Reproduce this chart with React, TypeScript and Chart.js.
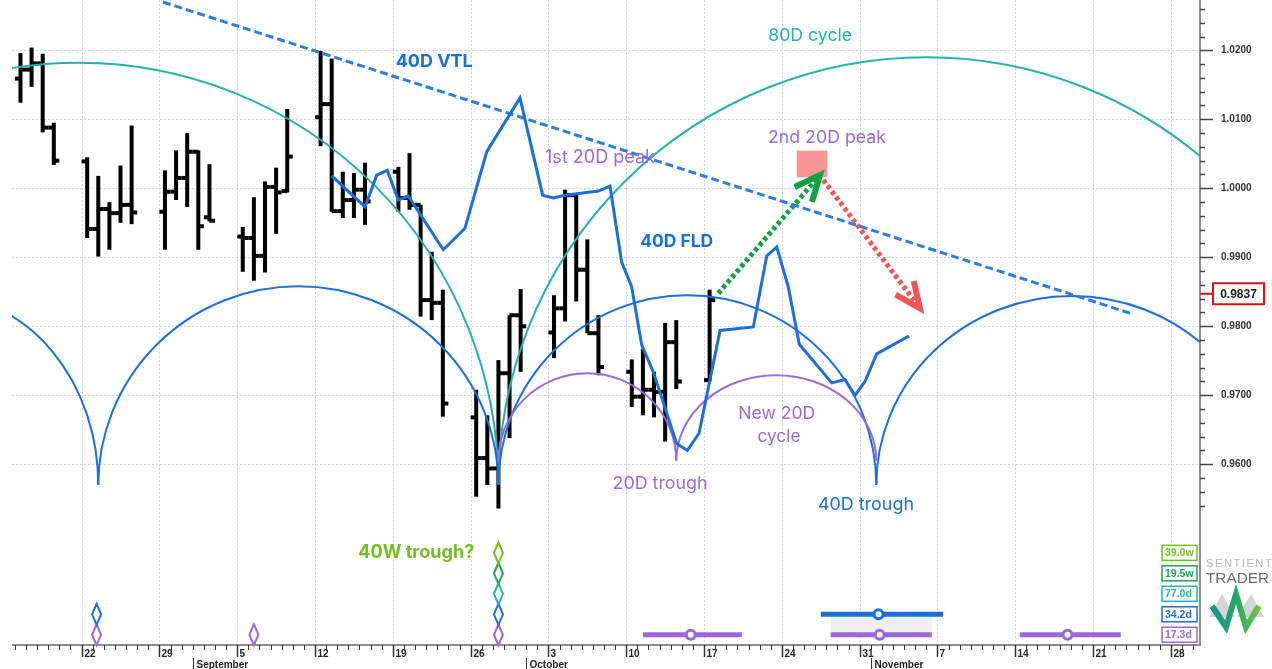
import { useEffect, useRef } from 'react';
import { Chart, registerables } from 'chart.js';
Chart.register(...registerables);

// ---------------- data ----------------
const BASE_DATE = '2022-08-22';
const barDates = [
  '2022-08-16', '2022-08-17', '2022-08-18', '2022-08-19',
  '2022-08-22', '2022-08-23', '2022-08-24', '2022-08-25', '2022-08-26',
  '2022-08-29', '2022-08-30', '2022-08-31', '2022-09-01', '2022-09-02',
  '2022-09-05', '2022-09-06', '2022-09-07', '2022-09-08', '2022-09-09',
  '2022-09-12', '2022-09-13', '2022-09-14', '2022-09-15', '2022-09-16',
  '2022-09-19', '2022-09-20', '2022-09-21', '2022-09-22', '2022-09-23',
  '2022-09-26', '2022-09-27', '2022-09-28', '2022-09-29', '2022-09-30',
  '2022-10-03', '2022-10-04', '2022-10-05', '2022-10-06', '2022-10-07',
  '2022-10-10', '2022-10-11', '2022-10-12', '2022-10-13', '2022-10-14',
  '2022-10-17',
];
const barOpen = [
  1.0159, 1.0172, 1.0181, 1.0088,
  1.0039, 0.9941, 0.9970, 0.9964, 0.9976,
  0.9966, 0.9995, 1.0015, 1.0053, 0.9958,
  0.9930, 0.9928, 0.9902, 1.0002, 0.9996,
  1.0103, 1.0122, 0.9967, 0.9983, 0.9998,
  1.0024, 0.9986, 0.9976, 0.9838, 0.9834,
  0.9668, 0.9609, 0.9594, 0.9732, 0.9816,
  0.9791, 0.9826, 0.9990, 0.9882, 0.9790,
  0.9734, 0.9698, 0.9708, 0.9705, 0.9777,
  0.9722,
];
const barHigh = [
  1.0196, 1.0204, 1.0195, 1.0095,
  1.0045, 1.0018, 0.9980, 1.0033, 1.0091,
  1.0026, 1.0055, 1.0080, 1.0055, 1.0035,
  0.9944, 0.9987, 1.0010, 1.0030, 1.0115,
  1.0199, 1.0188, 1.0024, 1.0022, 1.0037,
  1.0031, 1.0051, 0.9976, 0.9908, 0.9853,
  0.9708, 0.9671, 0.9751, 0.9816, 0.9854,
  0.9845, 0.9998, 0.9993, 0.9926, 0.9816,
  0.9752, 0.9767, 0.9734, 0.9805, 0.9809,
  0.9853,
];
const barLow = [
  1.0124, 1.0147, 1.0081, 1.0034,
  0.9928, 0.9901, 0.9911, 0.9950, 0.9948,
  0.9911, 0.9983, 0.9973, 0.9911, 0.9952,
  0.9879, 0.9866, 0.9878, 0.9934, 0.9994,
  1.0061, 0.9966, 0.9957, 0.9957, 0.9947,
  0.9966, 0.9969, 0.9814, 0.9809, 0.9669,
  0.9553, 0.9570, 0.9536, 0.9638, 0.9734,
  0.9754, 0.9807, 0.9836, 0.9790, 0.9729,
  0.9683, 0.9671, 0.9668, 0.9633, 0.9709,
  0.9720,
];
const barClose = [
  1.0172, 1.0181, 1.0088, 1.0040,
  0.9941, 0.9970, 0.9964, 0.9976, 0.9965,
  0.9995, 1.0015, 1.0053, 0.9945, 0.9953,
  0.9928, 0.9902, 1.0002, 0.9994, 1.0046,
  1.0122, 0.9967, 0.9983, 0.9998, 0.9981,
  0.9986, 0.9976, 0.9838, 0.9834, 0.9688,
  0.9609, 0.9594, 0.9732, 0.9816, 0.9800,
  0.9826, 0.9990, 0.9882, 0.9790, 0.9741,
  0.9698, 0.9708, 0.9705, 0.9777, 0.9720,
  0.9838,
];
const lastPriceLabel = '0.9837';

// 40D FLD (days after 2022-08-22)
const fldDays = [22.5, 25.5, 26.55, 27.5, 28.49, 29.39, 32.54, 34.49, 36.45, 39.44, 41.48, 42.44, 43.49, 46.49, 47.54,
  48.59, 49.49, 50.39, 51.43, 53.54, 54.49, 55.55, 57.44, 60.43, 61.64, 62.54, 63.58, 64.57, 67.49, 68.68, 69.58,
  70.48, 71.53, 74.44];
const fldValues = [1.0018, 0.9973, 1.0019, 1.0026, 0.9983, 0.9989, 0.9911, 0.9942, 1.0053, 1.0131, 0.9990, 0.9986,
  0.9990, 0.9996, 1.0003, 0.9893, 0.9857, 0.9773, 0.9734, 0.9630, 0.9620, 0.9645, 0.9794, 0.9799, 0.9902, 0.9915,
  0.9857, 0.9774, 0.9718, 0.9723, 0.9700, 0.9720, 0.9760, 0.9786];

// 40D VTL
const vtlDays = [7.32, 94.32];
const vtlValues = [1.0270, 0.9819];

// cycle arcs (trough positions in days, peak prices)
const cycle80Troughs = [-38, 37.5, 114.5];
const cycle80Peaks = [1.0182, 1.0190];
const cycle40Troughs = [-26.75, 1.5, 37.5, 71.5, 106.7];
const cycle40Peaks = [0.9844, 0.9858, 0.9845, 0.9844];
const cycle20Troughs = [37.5, 53.5, 71.5];
const cycle20Peaks = [0.9732, 0.9729];
const cycleBase = 0.9570;
const cycle20Base = 0.9605;

// projection arrows and target zone
const upArrowDays = [57.28, 66.43];
const upArrowValues = [0.98478, 1.00193];
const downArrowDays = [66.73, 75.43];
const downArrowValues = [1.0012, 0.98261];
const peakZoneDays = [64.34, 67.09];
const peakZoneValues = [1.00545, 1.00159];

// lower panel: cycles, trough markers and projections
const cycleNames = ['17.3d', '34.2d', '77.0d', '19.5w', '39.0w'];
const troughMarkDays = [[1.35, 15.5, 37.5], [1.35, 37.5], [37.5], [37.5], [37.5]];
const projCycle = [0, 0, 0, 1];
const projFrom = [50.5, 67.4, 84.4, 66.5];
const projTo = [59.4, 76.5, 93.5, 77.5];
const projMid = [54.8, 71.8, 88.7, 71.7];
const shadeFrom = 67.4;
const shadeTo = 76.5;

// text annotations
const noteTexts = ['40D VTL', '80D cycle', '2nd 20D peak', '1st 20D peak', '40D FLD', 'New 20D', 'cycle', '20D trough', '40D trough'];
const noteDays = [31.72, 65.55, 67.06, 46.64, 53.54, 62.54, 62.74, 52.04, 70.57];
const noteValues = [1.0183, 1.02207, 1.00729, 1.00439, 0.99228, 0.96740, 0.96403, 0.95714, 0.95409];
const footNoteText = '40W trough?';
const footNoteDay = 30.11;
const footNoteRow = 4.5;

// ---------------- styles ----------------
const X_MIN = -6.262;
const X_MAX = 100.62;
const Y_MIN = 0.93381;
const Y_MAX = 1.02729;
const COLORS = {
  bar: '#000000', fld: '#1a6fdc', vtl: '#2a7de4', teal: '#22b2a9', blue: '#1a6fdc', purple: '#9a68da',
  up: '#12a043', down: '#f05656', zone: '#f99595', lime: '#74bd22', green: '#1fa24f', grid: '#d4d4d4',
  axis: '#8c8c8c', tick: '#333333',
};
const cycleColors = [COLORS.purple, COLORS.blue, COLORS.teal, COLORS.green, COLORS.lime];
const noteStyles = [
  { c: COLORS.fld, w: 'bold', width: 77 },
  { c: COLORS.teal, w: 'normal', width: 84 },
  { c: COLORS.purple, w: 'normal', width: 118 },
  { c: COLORS.purple, w: 'normal', width: 110 },
  { c: COLORS.fld, w: 'bold', width: 73 },
  { c: COLORS.purple, w: 'normal', width: 77 },
  { c: COLORS.purple, w: 'normal', width: 43 },
  { c: COLORS.purple, w: 'normal', width: 95 },
  { c: COLORS.blue, w: 'normal', width: 96 },
];
const MONTHS = ['January', 'February', 'March', 'April', 'May', 'June', 'July', 'August', 'September', 'October', 'November', 'December'];

const baseMs = Date.parse(BASE_DATE + 'T00:00:00Z');
const dayOf = (s: string) => (Date.parse(s + 'T00:00:00Z') - baseMs) / 86400000;

const yTickValues: number[] = [];
for (let i = 0; i <= 36; i++) yTickValues.push(Math.round((0.954 + i * 0.002) * 10000) / 10000);
const isMajor = (v: number) => v >= 0.9599 && Math.abs(v * 100 - Math.round(v * 100)) < 1e-6;

function fitText(ctx: CanvasRenderingContext2D, text: string, cx: number, cy: number, weight: string, family: string, width: number, color: string, align: CanvasTextAlign = 'center') {
  ctx.font = `${weight} 20px ${family}`;
  const m = ctx.measureText(text).width;
  const size = 20 * width / m;
  ctx.font = `${weight} ${size.toFixed(2)}px ${family}`;
  ctx.fillStyle = color;
  ctx.textAlign = align;
  ctx.textBaseline = 'middle';
  ctx.fillText(text, cx, cy);
}

function arrowHead(ctx: CanvasRenderingContext2D, x0: number, y0: number, x1: number, y1: number, color: string) {
  const ang = Math.atan2(y0 - y1, x0 - x1);
  const len = 28;
  const spread = (24 * Math.PI) / 180;
  ctx.save();
  ctx.setLineDash([]);
  ctx.strokeStyle = color;
  ctx.lineWidth = 6;
  ctx.lineCap = 'butt';
  ctx.lineJoin = 'miter';
  ctx.beginPath();
  ctx.moveTo(x1 + len * Math.cos(ang + spread), y1 + len * Math.sin(ang + spread));
  ctx.lineTo(x1, y1);
  ctx.lineTo(x1 + len * Math.cos(ang - spread), y1 + len * Math.sin(ang - spread));
  ctx.stroke();
  ctx.restore();
}

const cyclePlugin = {
  id: 'cyclePlugin',
  beforeDatasetsDraw(chart: any) {
    const { ctx, chartArea: a } = chart;
    const xs = chart.scales.x;
    const ys = chart.scales.y;
    ctx.save();
    // grid
    ctx.strokeStyle = COLORS.grid;
    ctx.lineWidth = 1;
    ctx.setLineDash([2, 2]);
    for (let d = Math.ceil(xs.min); d <= xs.max; d++) {
      const date = new Date(baseMs + d * 86400000);
      if (date.getUTCDay() !== 1) continue;
      const x = Math.round(xs.getPixelForValue(d)) + 0.5;
      ctx.beginPath(); ctx.moveTo(x, a.top); ctx.lineTo(x, a.bottom); ctx.stroke();
    }
    yTickValues.filter(isMajor).forEach((v) => {
      const y = Math.round(ys.getPixelForValue(v)) + 0.5;
      ctx.beginPath(); ctx.moveTo(a.left, y); ctx.lineTo(a.right, y); ctx.stroke();
    });
    ctx.setLineDash([]);
    ctx.beginPath(); ctx.rect(a.left, a.top, a.right - a.left, a.bottom - a.top); ctx.clip();
    // OHLC bars
    const half = (xs.getPixelForValue(1) - xs.getPixelForValue(0)) / 2;
    ctx.fillStyle = COLORS.bar;
    barDates.forEach((ds, i) => {
      const x = xs.getPixelForValue(dayOf(ds) + 0.5);
      const yh = ys.getPixelForValue(barHigh[i]);
      const yl = ys.getPixelForValue(barLow[i]);
      const yo = ys.getPixelForValue(barOpen[i]);
      const yc = ys.getPixelForValue(barClose[i]);
      ctx.fillRect(x - 2, yh, 4, yl - yh);
      ctx.fillRect(x - half, yo - 2, half, 4);
      ctx.fillRect(x, yc - 2, half, 4);
    });
    // cycle arcs
    const arcs = (troughs: number[], peaks: number[], base: number, color: string) => {
      ctx.strokeStyle = color;
      ctx.lineWidth = 2;
      peaks.forEach((p, i) => {
        const x0 = xs.getPixelForValue(troughs[i]);
        const x1 = xs.getPixelForValue(troughs[i + 1]);
        const yb = ys.getPixelForValue(base);
        const yp = ys.getPixelForValue(p);
        ctx.beginPath();
        ctx.ellipse((x0 + x1) / 2, yb, (x1 - x0) / 2, yb - yp, 0, Math.PI, 2 * Math.PI);
        ctx.stroke();
      });
    };
    arcs(cycle80Troughs, cycle80Peaks, cycleBase, COLORS.teal);
    arcs(cycle40Troughs, cycle40Peaks, cycleBase, COLORS.blue);
    arcs(cycle20Troughs, cycle20Peaks, cycle20Base, COLORS.purple);
    ctx.restore();
  },
  afterDatasetsDraw(chart: any) {
    const { ctx } = chart;
    const xs = chart.scales.x;
    const ys = chart.scales.y;
    const y2 = chart.scales.y2;
    ctx.save();
    // peak zone
    const zx0 = xs.getPixelForValue(peakZoneDays[0]);
    const zx1 = xs.getPixelForValue(peakZoneDays[1]);
    const zy0 = ys.getPixelForValue(peakZoneValues[0]);
    const zy1 = ys.getPixelForValue(peakZoneValues[1]);
    ctx.fillStyle = COLORS.zone;
    ctx.fillRect(zx0, zy0, zx1 - zx0, zy1 - zy0);
    // arrow heads
    arrowHead(ctx, xs.getPixelForValue(upArrowDays[0]), ys.getPixelForValue(upArrowValues[0]),
      xs.getPixelForValue(upArrowDays[1]), ys.getPixelForValue(upArrowValues[1]), COLORS.up);
    arrowHead(ctx, xs.getPixelForValue(downArrowDays[0]), ys.getPixelForValue(downArrowValues[0]),
      xs.getPixelForValue(downArrowDays[1]), ys.getPixelForValue(downArrowValues[1]), COLORS.down);
    // notes
    noteTexts.forEach((t, i) => {
      const st = noteStyles[i];
      fitText(ctx, t, xs.getPixelForValue(noteDays[i]), ys.getPixelForValue(noteValues[i]), st.w, 'Inter', st.width, st.c);
    });
    fitText(ctx, footNoteText, xs.getPixelForValue(footNoteDay), y2.getPixelForValue(footNoteRow), 'bold', 'Inter', 116, COLORS.lime);

    // lower panel
    const rowY = (r: number) => y2.getPixelForValue(r + 0.5);
    ctx.fillStyle = '#efefef';
    const sx0 = xs.getPixelForValue(shadeFrom);
    const sx1 = xs.getPixelForValue(shadeTo);
    ctx.fillRect(sx0, rowY(1), sx1 - sx0, rowY(0) - rowY(1));
    projCycle.forEach((c, i) => {
      const y = rowY(c);
      const x0 = xs.getPixelForValue(projFrom[i]);
      const x1 = xs.getPixelForValue(projTo[i]);
      const xm = xs.getPixelForValue(projMid[i]);
      ctx.strokeStyle = cycleColors[c];
      ctx.lineWidth = 5;
      ctx.beginPath(); ctx.moveTo(x0, y); ctx.lineTo(x1, y); ctx.stroke();
      ctx.fillStyle = '#ffffff';
      ctx.lineWidth = 3;
      ctx.beginPath(); ctx.arc(xm, y, 4.5, 0, Math.PI * 2); ctx.fill(); ctx.stroke();
    });
    troughMarkDays.forEach((days, c) => {
      days.forEach((d) => {
        const x = xs.getPixelForValue(d);
        const y = rowY(c);
        ctx.strokeStyle = cycleColors[c];
        ctx.lineWidth = 2;
        ctx.beginPath();
        ctx.moveTo(x, y - 10.5); ctx.lineTo(x + 4.5, y); ctx.lineTo(x, y + 10.5); ctx.lineTo(x - 4.5, y); ctx.closePath();
        ctx.stroke();
      });
    });
    ctx.restore();
  },
  afterDraw(chart: any) {
    const { ctx, chartArea: a } = chart;
    const xs = chart.scales.x;
    const ys = chart.scales.y;
    const y2 = chart.scales.y2;
    ctx.save();
    // bottom date axis
    ctx.strokeStyle = COLORS.axis;
    ctx.lineWidth = 2;
    ctx.beginPath(); ctx.moveTo(a.left, a.bottom); ctx.lineTo(a.right, a.bottom); ctx.stroke();
    ctx.font = 'bold 10px "Liberation Sans", Arial, sans-serif';
    ctx.textBaseline = 'middle';
    ctx.textAlign = 'left';
    ctx.fillStyle = '#222';
    for (let d = Math.ceil(xs.min); d <= xs.max; d++) {
      const date = new Date(baseMs + d * 86400000);
      const x = Math.round(xs.getPixelForValue(d)) + 0.5;
      const monday = date.getUTCDay() === 1;
      ctx.strokeStyle = COLORS.tick;
      ctx.lineWidth = monday ? 1.5 : 1;
      ctx.beginPath(); ctx.moveTo(x, a.bottom); ctx.lineTo(x, a.bottom + (monday ? 12 : 5)); ctx.stroke();
      if (monday) ctx.fillText(String(date.getUTCDate()), x + 2, a.bottom + 9);
      if (date.getUTCDate() === 1) {
        ctx.lineWidth = 1;
        ctx.beginPath(); ctx.moveTo(x, a.bottom + 13); ctx.lineTo(x, a.bottom + 24); ctx.stroke();
        ctx.fillText(MONTHS[date.getUTCMonth()], x + 3, a.bottom + 20);
      }
    }
    // y axis ticks
    ctx.strokeStyle = '#444';
    ctx.lineWidth = 1.5;
    yTickValues.forEach((v) => {
      const y = Math.round(ys.getPixelForValue(v)) + 0.5;
      ctx.beginPath(); ctx.moveTo(a.right, y); ctx.lineTo(a.right + (isMajor(v) ? 13 : 5), y); ctx.stroke();
    });
    // last price box
    const py = ys.getPixelForValue(parseFloat(lastPriceLabel)) - 7;
    ctx.strokeStyle = '#e01010';
    ctx.lineWidth = 2;
    ctx.beginPath(); ctx.moveTo(a.right, py); ctx.lineTo(a.right + 13, py); ctx.stroke();
    ctx.fillStyle = '#ffffff';
    ctx.fillRect(a.right + 13, py - 10.5, 51, 21);
    ctx.strokeRect(a.right + 13, py - 10.5, 51, 21);
    ctx.fillStyle = '#1a1a1a';
    ctx.font = 'bold 12px "Liberation Sans", Arial, sans-serif';
    ctx.textAlign = 'center';
    ctx.fillText(lastPriceLabel, a.right + 38.5, py + 0.5);
    // cycle legend boxes
    cycleNames.forEach((n, c) => {
      const y = y2.getPixelForValue(c + 0.5);
      const bx = a.right - 38;
      ctx.fillStyle = '#ffffff';
      ctx.fillRect(bx, y - 7.5, 35, 15);
      ctx.strokeStyle = cycleColors[c];
      ctx.lineWidth = 1.5;
      ctx.strokeRect(bx, y - 7.5, 35, 15);
      ctx.fillStyle = cycleColors[c];
      ctx.font = 'bold 10.5px "Liberation Sans", Arial, sans-serif';
      ctx.textAlign = 'left';
      ctx.fillText(n, bx + 3, y + 0.5);
    });
    // logo
    const lx = a.right + 6;
    (ctx as any).letterSpacing = '1.5px';
    fitText(ctx, 'SENTIENT', lx, 564, 'normal', '"Liberation Sans", Arial, sans-serif', 62, '#b3b3b3', 'left');
    (ctx as any).letterSpacing = '0px';
    fitText(ctx, 'TRADER', lx, 579, 'normal', '"Liberation Sans", Arial, sans-serif', 63, '#6b6b6b', 'left');
    ctx.fillStyle = '#d5d5d5';
    ctx.beginPath(); ctx.moveTo(1209, 617); ctx.lineTo(1222, 594); ctx.lineTo(1235, 617); ctx.closePath(); ctx.fill();
    ctx.beginPath(); ctx.moveTo(1237, 617); ctx.lineTo(1251, 594); ctx.lineTo(1264, 617); ctx.closePath(); ctx.fill();
    const g = ctx.createLinearGradient(1210, 0, 1260, 0);
    g.addColorStop(0, '#1a8f8f');
    g.addColorStop(0.5, '#22a86a');
    g.addColorStop(1, '#7bc043');
    ctx.strokeStyle = g;
    ctx.lineWidth = 6;
    ctx.lineJoin = 'miter';
    ctx.beginPath();
    ctx.moveTo(1212, 606); ctx.lineTo(1226, 627); ctx.lineTo(1236, 594); ctx.lineTo(1246, 627); ctx.lineTo(1259, 606);
    ctx.stroke();
    ctx.restore();
  },
};

export default function App() {
  const ref = useRef<HTMLCanvasElement>(null);
  useEffect(() => {
    document.body.style.margin = '0';
    const chart = new Chart(ref.current as HTMLCanvasElement, {
      type: 'line',
      data: {
        datasets: [
          {
            label: '40D FLD',
            data: fldDays.map((d, i) => ({ x: d, y: fldValues[i] })),
            borderColor: COLORS.fld, borderWidth: 3, pointRadius: 0, tension: 0,
          },
          {
            label: '40D VTL',
            data: vtlDays.map((d, i) => ({ x: d, y: vtlValues[i] })),
            borderColor: COLORS.vtl, borderWidth: 3, borderDash: [8, 4], pointRadius: 0,
          },
          {
            label: 'up',
            data: upArrowDays.map((d, i) => ({ x: d, y: upArrowValues[i] })),
            borderColor: COLORS.up, borderWidth: 5, borderDash: [4, 3], pointRadius: 0, borderCapStyle: 'butt',
          },
          {
            label: 'down',
            data: downArrowDays.map((d, i) => ({ x: d, y: downArrowValues[i] })),
            borderColor: COLORS.down, borderWidth: 5, borderDash: [4, 3], pointRadius: 0, borderCapStyle: 'butt',
          },
        ],
      } as any,
      options: {
        responsive: false,
        animation: false,
        devicePixelRatio: 1,
        layout: { padding: { left: 12, right: 0, top: 0, bottom: 24 } },
        plugins: { legend: { display: false }, tooltip: { enabled: false } },
        scales: {
          x: { type: 'linear', min: X_MIN, max: X_MAX, display: false },
          y: {
            type: 'linear', position: 'right', min: Y_MIN, max: Y_MAX,
            afterBuildTicks: (s: any) => { s.ticks = yTickValues.map((v) => ({ value: v })); },
            afterFit: (s: any) => { s.width = 72; s.paddingTop = 0; s.paddingBottom = 0; },
            ticks: {
              autoSkip: false, padding: 21, color: '#333',
              font: { family: '"Liberation Sans", Arial, sans-serif', size: 10, weight: 'bold' },
              callback: (v: any) => (isMajor(Number(v)) ? Number(v).toFixed(4) : ''),
            },
            grid: { drawOnChartArea: false, drawTicks: false },
            border: { display: true, color: COLORS.axis, width: 2 },
          },
          y2: { type: 'linear', min: 0, max: 31.5, display: false },
        },
      } as any,
      plugins: [cyclePlugin],
    });
    return () => chart.destroy();
  }, []);
  return (
    <div style={{ position: 'absolute', left: 0, top: 0, width: 1272, height: 669, background: '#fff' }}>
      <canvas ref={ref} width={1272} height={669} style={{ display: 'block', width: 1272, height: 669 }} />
    </div>
  );
}
